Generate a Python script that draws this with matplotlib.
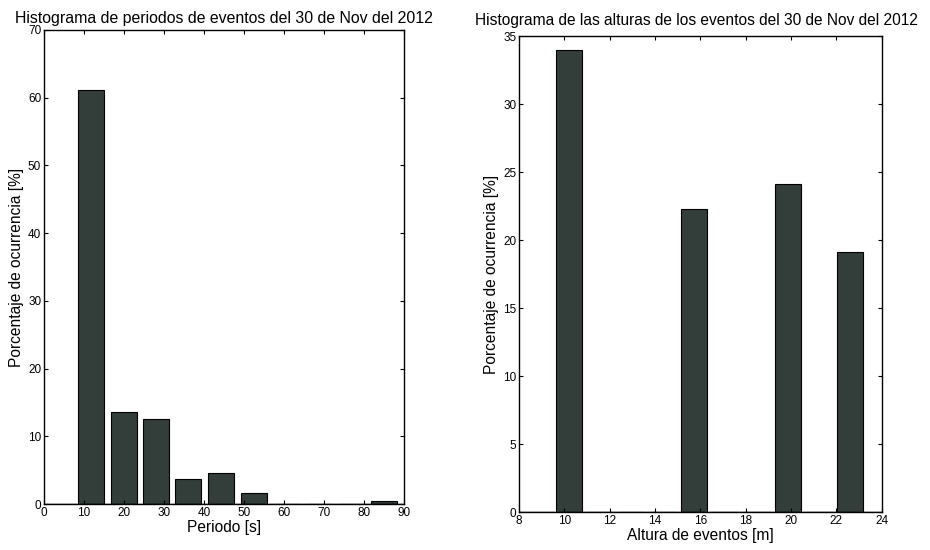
from matplotlib import pyplot as plt

plt.rcParams['font.family'] = ['Liberation Sans', 'DejaVu Sans']

# Periodos (bin centers in s) and percentage of occurrence
period_centers = [11.8, 19.9, 28.0, 36.1, 44.3, 52.4, 60.5, 68.6, 76.7, 84.9]
period_pct = [61.2, 13.6, 12.5, 3.7, 4.6, 1.6, 0, 0, 0, 0.45]
period_xticks = [0, 10, 20, 30, 40, 50, 60, 70, 80, 90]
period_yticks = [0, 10, 20, 30, 40, 50, 60, 70]

# Alturas (bin centers in m) and percentage of occurrence
height_centers = [10.2, 11.58, 12.96, 14.34, 15.72, 17.1, 18.48, 19.86, 21.24, 22.62]
height_pct = [34.0, 0, 0, 0, 22.3, 0, 0, 24.1, 0, 19.1]
height_xticks = [8, 10, 12, 14, 16, 18, 20, 22, 24]
height_yticks = [0, 5, 10, 15, 20, 25, 30, 35]

bar_color = '#333d3a'

fig = plt.figure(figsize=(9.3, 5.5), dpi=100)


def style_axes(ax, xticks, yticks):
    ax.set_xticks(xticks)
    ax.set_yticks(yticks)
    ax.set_xlim(xticks[0], xticks[-1])
    ax.set_ylim(yticks[0], yticks[-1])
    ax.tick_params(direction='in', top=True, right=True, labelsize=8.5,
                   length=3, width=0.8, pad=2)
    for s in ax.spines.values():
        s.set_linewidth(1.0)
    ax.axhline(0, color='k', lw=1.0)


# Left histogram
ax1 = fig.add_axes([0.0473, 0.0836, 0.387, 0.862])
ax1.bar(period_centers, period_pct, width=6.5, color=bar_color,
        edgecolor='k', linewidth=0.8)
style_axes(ax1, period_xticks, period_yticks)
ax1.set_xlabel('Periodo [s]', fontsize=11.2, labelpad=1)
ax1.set_ylabel('Porcentaje de ocurrencia [%]', fontsize=11.2, labelpad=3)
ax1.set_title('Histograma de periodos de eventos del 30 de Nov del 2012',
              fontsize=11.4, pad=5)

# Right histogram
ax2 = fig.add_axes([0.558, 0.069, 0.390, 0.865])
ax2.bar(height_centers, height_pct, width=1.15, color=bar_color,
        edgecolor='k', linewidth=0.8)
style_axes(ax2, height_xticks, height_yticks)
ax2.set_xlabel('Altura de eventos [m]', fontsize=11.2, labelpad=1)
ax2.set_ylabel('Porcentaje de ocurrencia [%]', fontsize=11.2, labelpad=3)
ax2.set_title('Histograma de las alturas de los eventos del 30 de Nov del 2012',
              fontsize=11.2, pad=8, x=0.49)

fig.savefig('out.png', dpi=100)
